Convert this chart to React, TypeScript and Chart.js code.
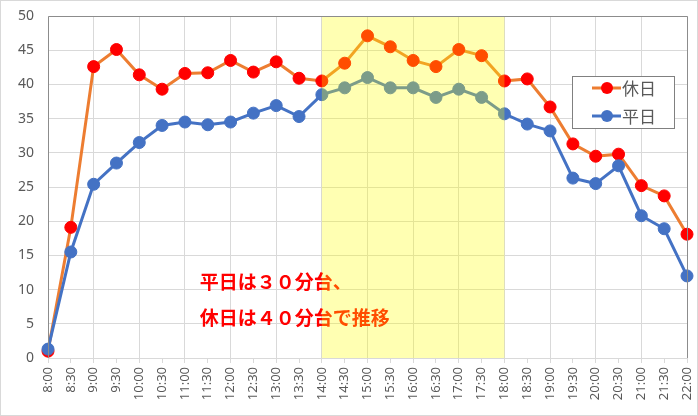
import React, { useEffect, useRef } from "react";
import { Chart, registerables } from "chart.js";

Chart.register(...registerables);

const labels = [
  "8:00", "8:30", "9:00", "9:30", "10:00", "10:30", "11:00", "11:30",
  "12:00", "12:30", "13:00", "13:30", "14:00", "14:30", "15:00", "15:30",
  "16:00", "16:30", "17:00", "17:30", "18:00", "18:30", "19:00", "19:30",
  "20:00", "20:30", "21:00", "21:30", "22:00",
];

const holiday = [
  1.0, 19.1, 42.6, 45.1, 41.4, 39.3, 41.6, 41.7,
  43.5, 41.8, 43.3, 40.9, 40.5, 43.1, 47.1, 45.5,
  43.5, 42.6, 45.1, 44.2, 40.5, 40.8, 36.7, 31.3,
  29.5, 29.8, 25.2, 23.7, 18.1,
];

const weekday = [
  1.3, 15.5, 25.4, 28.5, 31.5, 34.0, 34.5, 34.1,
  34.5, 35.8, 36.9, 35.3, 38.5, 39.5, 41.0, 39.5,
  39.5, 38.1, 39.3, 38.1, 35.7, 34.2, 33.2, 26.3,
  25.5, 28.1, 20.8, 18.9, 12.0,
];

const seriesNames = ["休日", "平日"];
const highlightFrom = "14:00";
const highlightTo = "18:00";
const noteLines = ["平日は３０分台、", "休日は４０分台で推移"];

const HOLIDAY_LINE = "#ED7D31";
const HOLIDAY_POINT = "#FF0000";
const WEEKDAY_COLOR = "#4472C4";

const decoPlugin = {
  id: "deco",
  beforeDraw(chart: any) {
    const ctx = chart.ctx;
    ctx.save();
    ctx.fillStyle = "#ffffff";
    ctx.fillRect(0, 0, chart.width, chart.height);
    ctx.strokeStyle = "#d9d9d9";
    ctx.lineWidth = 1;
    ctx.strokeRect(0.5, 0.5, chart.width - 1, chart.height - 1);
    ctx.restore();
  },
  afterDatasetsDraw(chart: any) {
    const ctx = chart.ctx;
    const { left, top, right, bottom } = chart.chartArea;
    const xs = chart.scales.x;
    const ys = chart.scales.y;

    // annotation text
    ctx.save();
    ctx.font = "bold 19px 'Noto Sans CJK JP'";
    ctx.fillStyle = "#FF0000";
    ctx.textBaseline = "middle";
    ctx.textAlign = "left";
    const tx = xs.getPixelForValue(6.65);
    ctx.fillText(noteLines[0], tx, ys.getPixelForValue(11.2));
    ctx.fillText(noteLines[1], tx, ys.getPixelForValue(5.9));
    ctx.restore();

    // highlight band (semi-transparent overlay)
    const x0 = xs.getPixelForValue(labels.indexOf(highlightFrom));
    const x1 = xs.getPixelForValue(labels.indexOf(highlightTo));
    ctx.save();
    ctx.fillStyle = "rgba(255,255,0,0.3)";
    ctx.fillRect(x0, top, x1 - x0, bottom - top);
    ctx.restore();

    // plot border (left, top, right)
    ctx.save();
    ctx.strokeStyle = "#8c8c8c";
    ctx.lineWidth = 1;
    ctx.beginPath();
    ctx.moveTo(Math.round(left) + 0.5, Math.round(bottom));
    ctx.lineTo(Math.round(left) + 0.5, Math.round(top) + 0.5);
    ctx.lineTo(Math.round(right) + 0.5, Math.round(top) + 0.5);
    ctx.lineTo(Math.round(right) + 0.5, Math.round(bottom));
    ctx.stroke();
    ctx.restore();

    // legend
    const bx = Math.round(right) - 115;
    const by = Math.round(top) + 60;
    const bw = 102;
    const bh = 52;
    ctx.save();
    ctx.fillStyle = "#ffffff";
    ctx.fillRect(bx, by, bw, bh);
    ctx.strokeStyle = "#808080";
    ctx.lineWidth = 1;
    ctx.strokeRect(bx + 0.5, by + 0.5, bw, bh);
    const items = [
      { name: seriesNames[0], line: HOLIDAY_LINE, point: HOLIDAY_POINT },
      { name: seriesNames[1], line: WEEKDAY_COLOR, point: WEEKDAY_COLOR },
    ];
    items.forEach((it, i) => {
      const cy = by + 12 + i * 28;
      ctx.strokeStyle = it.line;
      ctx.lineWidth = 3;
      ctx.beginPath();
      ctx.moveTo(bx + 20, cy);
      ctx.lineTo(bx + 49, cy);
      ctx.stroke();
      ctx.fillStyle = it.point;
      ctx.beginPath();
      ctx.arc(bx + 35, cy, 6, 0, Math.PI * 2);
      ctx.fill();
      ctx.fillStyle = "#595959";
      ctx.font = "17px 'Noto Sans CJK JP'";
      ctx.textBaseline = "middle";
      ctx.textAlign = "left";
      ctx.fillText(it.name, bx + 50, cy + 1);
    });
    ctx.restore();
  },
};

export default function App() {
  const canvasRef = useRef<HTMLCanvasElement | null>(null);

  useEffect(() => {
    if (!canvasRef.current) return;
    const chart = new Chart(canvasRef.current, {
      type: "line",
      data: {
        labels,
        datasets: [
          {
            label: seriesNames[1],
            data: weekday,
            borderColor: WEEKDAY_COLOR,
            backgroundColor: WEEKDAY_COLOR,
            pointBackgroundColor: WEEKDAY_COLOR,
            pointBorderColor: WEEKDAY_COLOR,
            pointRadius: 6,
            pointBorderWidth: 1,
            borderWidth: 3,
            tension: 0,
            clip: false as any,
            order: 0,
          },
          {
            label: seriesNames[0],
            data: holiday,
            borderColor: HOLIDAY_LINE,
            backgroundColor: HOLIDAY_POINT,
            pointBackgroundColor: HOLIDAY_POINT,
            pointBorderColor: HOLIDAY_POINT,
            pointRadius: 6,
            pointBorderWidth: 1,
            borderWidth: 3,
            tension: 0,
            clip: false as any,
            order: 1,
          },
        ],
      },
      options: {
        responsive: false,
        animation: false,
        layout: { padding: { top: 16, right: 11, left: 0, bottom: 0 } },
        plugins: {
          legend: { display: false },
          tooltip: { enabled: false },
        },
        scales: {
          x: {
            type: "category",
            offset: false,
            border: { display: true, color: "#d9d9d9" },
            grid: {
              display: true,
              color: (c: any) => (c.index % 2 === 0 ? "#d9d9d9" : "rgba(0,0,0,0)"),
              tickColor: "#d9d9d9",
              drawTicks: true,
              tickLength: 5,
            },
            ticks: {
              autoSkip: false,
              maxRotation: 90,
              minRotation: 90,
              padding: 4,
              color: "#595959",
              font: { family: "'Noto Sans', sans-serif", size: 13 },
            },
            afterFit: (scale: any) => {
              scale.height = 58;
              scale.paddingLeft = 0;
              scale.paddingRight = 0;
            },
          },
          y: {
            min: 0,
            max: 50,
            border: { display: false },
            grid: {
              color: "#d9d9d9",
              drawTicks: false,
            },
            ticks: {
              stepSize: 5,
              padding: 14,
              color: "#595959",
              font: { family: "'Noto Sans', sans-serif", size: 14 },
            },
            afterFit: (scale: any) => {
              scale.width = 48;
              scale.paddingTop = 0;
              scale.paddingBottom = 0;
            },
          },
        },
      },
      plugins: [decoPlugin],
    });
    return () => chart.destroy();
  }, []);

  return (
    <div style={{ position: "absolute", left: 0, top: 0, width: 698, height: 416 }}>
      <canvas ref={canvasRef} width={698} height={416} style={{ width: 698, height: 416 }} />
    </div>
  );
}
